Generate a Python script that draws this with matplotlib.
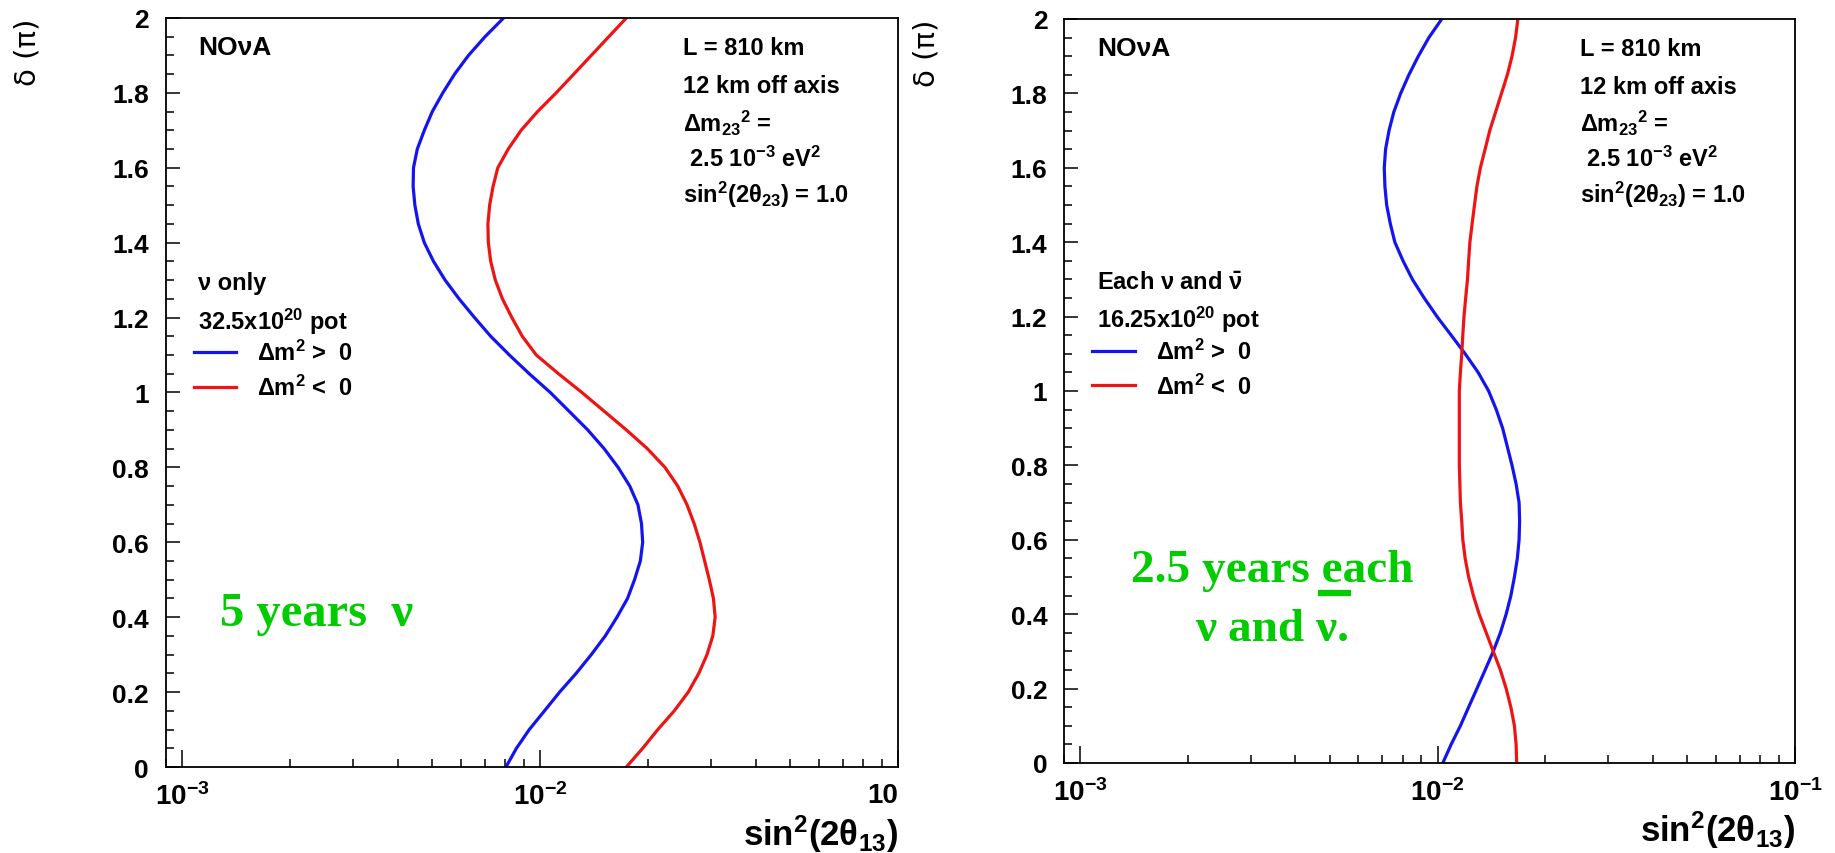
import matplotlib
matplotlib.use("Agg")
import matplotlib.pyplot as plt
from matplotlib.ticker import FixedLocator, LogLocator, NullFormatter

# ---------------- data ----------------
delta = [0.00, 0.05, 0.10, 0.15, 0.20, 0.25, 0.30, 0.35, 0.40, 0.45,
         0.50, 0.55, 0.60, 0.65, 0.70, 0.75, 0.80, 0.85, 0.90, 0.95,
         1.00, 1.05, 1.10, 1.15, 1.20, 1.25, 1.30, 1.35, 1.40, 1.45,
         1.50, 1.55, 1.60, 1.65, 1.70, 1.75, 1.80, 1.85, 1.90, 1.95, 2.00]

# left panel: nu only, 32.5e20 pot
left_blue = [0.00803, 0.00859, 0.00933, 0.01029, 0.01134, 0.01261, 0.01390, 0.01521,
             0.01640, 0.01755, 0.01836, 0.01906, 0.01935, 0.01920, 0.01877, 0.01781,
             0.01652, 0.01510, 0.01359, 0.01205, 0.01068, 0.00933, 0.00821, 0.00728,
             0.00656, 0.00594, 0.00543, 0.00504, 0.00475, 0.00457, 0.00447, 0.00442,
             0.00443, 0.00454, 0.00475, 0.00500, 0.00535, 0.00577, 0.00631, 0.00702,
             0.00791]
left_red = [0.01742, 0.01935, 0.02133, 0.02371, 0.02594, 0.02776, 0.02926, 0.03038,
            0.03084, 0.03050, 0.02970, 0.02882, 0.02797, 0.02694, 0.02574, 0.02425,
            0.02233, 0.01994, 0.01742, 0.01510, 0.01309, 0.01126, 0.00976, 0.00892,
            0.00834, 0.00785, 0.00750, 0.00728, 0.00717, 0.00715, 0.00723, 0.00739,
            0.00762, 0.00815, 0.00885, 0.00984, 0.01109, 0.01242, 0.01390, 0.01556,
            0.01742]

# right panel: each nu and nubar, 16.25e20 pot
right_blue = [0.01034, 0.01091, 0.01158, 0.01221, 0.01288, 0.01358, 0.01431, 0.01498,
              0.01555, 0.01603, 0.01640, 0.01671, 0.01690, 0.01696, 0.01690, 0.01658,
              0.01615, 0.01567, 0.01520, 0.01459, 0.01389, 0.01298, 0.01194, 0.01091,
              0.00996, 0.00917, 0.00850, 0.00800, 0.00759, 0.00737, 0.00720, 0.00712,
              0.00709, 0.00715, 0.00731, 0.00754, 0.00788, 0.00831, 0.00883, 0.00945,
              0.01027]
right_red = [0.01664, 0.01658, 0.01640, 0.01603, 0.01555, 0.01498, 0.01431, 0.01368,
             0.01307, 0.01259, 0.01221, 0.01194, 0.01176, 0.01168, 0.01158, 0.01154,
             0.01150, 0.01150, 0.01150, 0.01150, 0.01150, 0.01158, 0.01168, 0.01176,
             0.01185, 0.01198, 0.01212, 0.01221, 0.01231, 0.01249, 0.01268, 0.01288,
             0.01317, 0.01358, 0.01399, 0.01453, 0.01509, 0.01567, 0.01615, 0.01652,
             0.01677]

ytick_vals = [0, 0.2, 0.4, 0.6, 0.8, 1.0, 1.2, 1.4, 1.6, 1.8, 2.0]
ytick_labels = ["0", "0.2", "0.4", "0.6", "0.8", "1", "1.2", "1.4", "1.6", "1.8", "2"]
yminor_vals = [0.05 * i for i in range(41)]
xtick_vals = [1e-3, 1e-2, 1e-1]
xtick_labels_left = ["$10^{-3}$", "$10^{-2}$", "10"]
xtick_labels_right = ["$10^{-3}$", "$10^{-2}$", "$10^{-1}$"]

info_lines = ["L = 810 km", "12 km off axis", "Δm$_{23}$$^{2}$ =",
              " 2.5 10$^{-3}$ eV$^{2}$", "sin$^{2}$(2θ$_{23}$) = 1.0"]
legend_labels = ["Δm$^{2}$ >  0", "Δm$^{2}$ <  0"]
left_header = ["ν only", "32.5x10$^{20}$ pot"]
right_header = ["Each ν and $\\bar{\\nu}$", "16.25x10$^{20}$ pot"]

BLUE = "#1414ee"
RED = "#ee1414"
GREEN = "#00cc00"

plt.rcParams["font.family"] = ["Liberation Sans", "DejaVu Sans"]
plt.rcParams["font.weight"] = "bold"
plt.rcParams["axes.labelweight"] = "bold"
plt.rcParams["mathtext.fontset"] = "custom"
plt.rcParams["mathtext.rm"] = "Liberation Sans:bold"
plt.rcParams["mathtext.it"] = "Liberation Sans:bold"
plt.rcParams["mathtext.bf"] = "Liberation Sans:bold"
plt.rcParams["mathtext.default"] = "rm"

fig = plt.figure(figsize=(18.35, 8.54), dpi=100)
axL = fig.add_axes([0.0903, 0.1007, 0.3991, 0.8771])
axR = fig.add_axes([0.5798, 0.1054, 0.3984, 0.8712])


def style(ax, xlabels):
    ax.set_xscale("log")
    ax.set_xlim(9e-4, 1e-1)
    ax.set_ylim(0, 2)
    for s in ax.spines.values():
        s.set_linewidth(1.3)
    ax.xaxis.set_major_locator(FixedLocator(xtick_vals))
    ax.xaxis.set_minor_locator(LogLocator(base=10, subs=range(2, 10)))
    ax.xaxis.set_minor_formatter(NullFormatter())
    ax.set_xticks(xtick_vals)
    ax.set_xticklabels(xlabels)
    ax.set_yticks(ytick_vals)
    ax.set_yticklabels(ytick_labels)
    ax.set_yticks(yminor_vals, minor=True)
    ax.tick_params(axis="x", which="major", direction="in", length=12, width=1.1,
                   labelsize=20, pad=11, top=False)
    ax.tick_params(axis="x", which="minor", direction="in", length=6, width=1.1, top=False)
    ax.tick_params(axis="y", which="major", direction="in", length=10, width=1.1,
                   labelsize=19, pad=12, right=False)
    ax.tick_params(axis="y", which="minor", direction="in", length=5.5, width=1.1, right=False)
    ax.set_ylabel("δ (π)", loc="top", fontsize=21, fontweight="normal",
                  family=["DejaVu Sans"])
    ax.yaxis.set_label_coords(-0.169, 1.0)
    ax.set_xlabel("sin$^{2}$(2θ$_{13}$)", loc="right", fontsize=25, fontweight="bold")
    ax.xaxis.set_label_coords(1.0, -0.061)


def annotate(ax, header, x0, ybase):
    ax.text(x0, 0.9515, "NOνA", transform=ax.transAxes, fontsize=19, va="baseline")
    ys = [0.9515, 0.901, 0.849, 0.803, 0.754]
    for t, y in zip(info_lines, ys):
        ax.text(0.706, y, t, transform=ax.transAxes, fontsize=17, va="baseline")
    ax.text(x0, ybase[0], header[0], transform=ax.transAxes, fontsize=17, va="baseline")
    ax.text(x0, ybase[1], header[1], transform=ax.transAxes, fontsize=17, va="baseline")


# ---------- left ----------
lb, = axL.plot(left_blue, delta, color=BLUE, lw=2.3)
lr, = axL.plot(left_red, delta, color=RED, lw=2.3)
style(axL, xtick_labels_left)
axL.get_xticklabels()[2].set_horizontalalignment("right")
annotate(axL, left_header, 0.044, [0.638, 0.585])
axL.legend([lb, lr], legend_labels, loc="upper left", bbox_to_anchor=(0.038, 0.57),
           frameon=False, fontsize=17, handlelength=1.8, handletextpad=0.9,
           labelspacing=0.4, borderpad=0, borderaxespad=0)
axL.text(0.074, 0.206, "5 years  ν", transform=axL.transAxes, color=GREEN,
         fontsize=35, family=["Liberation Serif"], fontweight="bold", va="center")

# ---------- right ----------
rb, = axR.plot(right_blue, delta, color=BLUE, lw=2.3)
rr, = axR.plot(right_red, delta, color=RED, lw=2.3)
style(axR, xtick_labels_right)
annotate(axR, right_header, 0.045, [0.637, 0.586])
axR.legend([rb, rr], legend_labels, loc="upper left", bbox_to_anchor=(0.039, 0.57),
           frameon=False, fontsize=17, handlelength=1.8, handletextpad=0.9,
           labelspacing=0.4, borderpad=0, borderaxespad=0)
axR.text(0.285, 0.244, "2.5 years each", transform=axR.transAxes, color=GREEN,
         fontsize=34, family=["Liberation Serif"], fontweight="bold",
         ha="center", va="baseline")
axR.text(0.285, 0.165, "ν and ν.", transform=axR.transAxes, color=GREEN,
         fontsize=34, family=["Liberation Serif"], fontweight="bold",
         ha="center", va="baseline")
# overline bar drawn for the second nu
axR.plot([0.348, 0.392], [0.229, 0.229], transform=axR.transAxes, color=GREEN,
         lw=4.5, solid_capstyle="butt")

fig.savefig("out.png", dpi=100)
